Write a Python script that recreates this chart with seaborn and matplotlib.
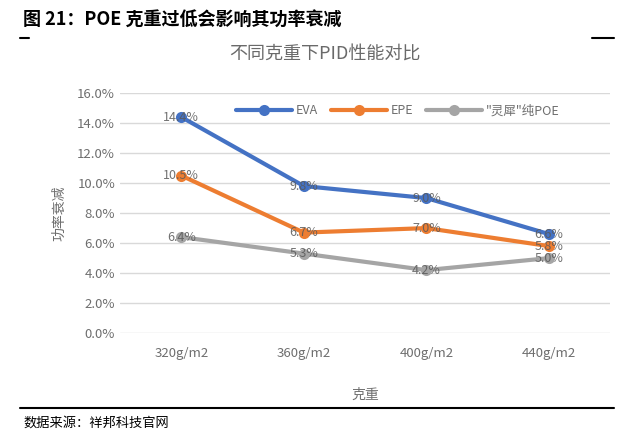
import matplotlib
matplotlib.use('Agg')
import matplotlib.pyplot as plt
import seaborn as sns
import pandas as pd

# --- data ---
weights = ['320g/m2', '360g/m2', '400g/m2', '440g/m2']
eva = [14.4, 9.8, 9.0, 6.6]
epe = [10.5, 6.7, 7.0, 5.8]
poe = [6.4, 5.3, 4.2, 5.0]
series_names = ['EVA', 'EPE', '"灵犀"纯POE']
colors = ['#4472C4', '#ED7D31', '#A5A5A5']

rows = []
for name, vals in zip(series_names, [eva, epe, poe]):
    for w, v in zip(weights, vals):
        rows.append({'克重': w, 'value': v, 'series': name})
df = pd.DataFrame(rows)

sns.set_style('white')
plt.rcParams['font.family'] = ['Noto Sans CJK SC', 'DejaVu Sans']

fig = plt.figure(figsize=(6.4, 4.43), dpi=100)
ax = fig.add_axes([0.1875, 0.248, 0.766, 0.542])

sns.lineplot(data=df, x='克重', y='value', hue='series', palette=colors,
             marker='o', markersize=8, linewidth=3, markeredgewidth=0,
             sort=False, ax=ax)

# data labels centred on the points
grey_txt = '#6E6E6E'
for name, vals in zip(series_names, [eva, epe, poe]):
    for i, v in enumerate(vals):
        ax.text(i, v, f'{v:.1f}%', ha='center', va='center', fontsize=9,
                color='#595959', alpha=0.85)

ax.set_ylim(0, 16)
ax.set_xlim(-0.5, 3.5)
ax.set_yticks(range(0, 17, 2))
ax.set_yticklabels([f'{t:.1f}%' for t in range(0, 17, 2)])
ax.tick_params(axis='both', length=0, labelsize=9.5, labelcolor=grey_txt)
ax.tick_params(axis='x', pad=10)
ax.yaxis.grid(True, color='#D9D9D9', linewidth=1)
for s in ax.spines.values():
    s.set_visible(False)

ax.set_xlabel('克重', fontsize=10, color=grey_txt, labelpad=20)
ax.set_ylabel('功率衰减', fontsize=10, color=grey_txt, labelpad=8)

leg = ax.legend(loc='upper right', bbox_to_anchor=(0.92, 1.0), ncol=3, frameon=False,
                fontsize=9, labelcolor=grey_txt, handlelength=4.5, columnspacing=1.0,
                handletextpad=0.3)

fig.text(0.508, 0.876, '不同克重下PID性能对比', ha='center', va='center',
         fontsize=13, color='#6A6A6A')

# report style header / footer
fig.text(0.036, 0.955, '图 21：POE 克重过低会影响其功率衰减', ha='left', va='center',
         fontsize=13, fontweight='bold', color='black')
fig.add_artist(plt.Line2D([0.032, 0.045], [0.914, 0.914], color='black', lw=1.5))
fig.add_artist(plt.Line2D([0.925, 0.96], [0.914, 0.914], color='black', lw=1.5))
fig.add_artist(plt.Line2D([0.032, 0.96], [0.079, 0.079], color='black', lw=1.5))
fig.text(0.036, 0.045, '数据来源：祥邦科技官网', ha='left', va='center',
         fontsize=9.5, color='black')

fig.savefig('out.png', dpi=100)
